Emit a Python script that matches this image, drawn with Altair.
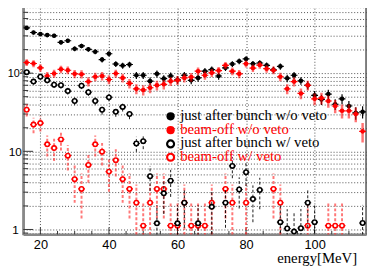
import altair as alt
import pandas as pd
import numpy as np

# ---- data ----
energy = list(range(16, 116, 2))  # bin centres [MeV]

after_bunch_no_veto = [379, 331, 316, 307, 301, 248, 260, 205, 223, 202,
                       188, 149, 177, 131, 125, 129, 94, 94, 79, 98,
                       85, 92, 82, 94, 81, 87, 106, 111, 92, 117,
                       131, 142, 152, 132, 135, 126, 110, 122, 86, 94,
                       80, 70, 52, 46, 54, 40, 47, 38, 31, 32]
beam_off_no_veto = [137, 133, 117, 92, 99, 112, 109, 98, 97, 78,
                    90, 92, 83, 99, 87, 74, 63, 61, 65, 70,
                    72, 79, 81, 87, 89, 106, 94, 101, 108, 126,
                    106, 98, 132, 116, 127, 114, 109, 90, 63, 78,
                    55, 70, 47, 48, 44, 38, 33, 33, 30, 18]
after_bunch_veto = [103, 78, 90, 81, 71, 70, 59, 44, 69, 57,
                    44, 34, 49, 32, 37, 30, 12.6, 13.5, 4.8, 1.2,
                    2.9, 4.2, 1.2, 2.2, None, 1.2, None, 1.95, None, 2.2,
                    6.5, 3.25, 5.4, 2.45, 3.2, None, None, 1.24, 1.03, 0.94,
                    1.04, 2.2, 1.24, None, None, None, None, None, None, 1.21]
beam_off_veto = [34, 22, 23, 12.3, 11, 14.2, 8.8, 4.4, 3.3, 6.7,
                 12.3, 9.9, 5.5, 7.7, 4.4, 3.3, 2.2, 1.12, 2.2, 3.3,
                 3.3, 1.12, 1.12, 2.2, 1.12, 1.12, 1.12, 2.2, None, 3.3,
                 2.2, None, 2.2, None, None, None, 3.3, 2.2, None, None,
                 None, 1.12, None, None, 1.12, 1.12, 1.12, None, None, None]

series_names = ["just after bunch w/o veto", "beam-off w/o veto",
                "just after bunch w/ veto", "beam-off w/ veto"]
series_values = [after_bunch_no_veto, beam_off_no_veto, after_bunch_veto, beam_off_veto]
# counts-per-entry weight used for the Poisson error bars of each series
entry_weight = [1.0, 1.4, 0.6, 1.11]
half_bin = 1.0

y_major = [1, 10, 100]
y_minor = [0.9, 2, 3, 4, 5, 6, 7, 8, 9, 20, 30, 40, 50, 60, 70, 80, 90,
           200, 300, 400, 500, 600, 700]
x_major = [20, 40, 60, 80, 100]
x_minor = [25, 30, 35, 45, 50, 55, 65, 70, 75, 85, 90, 95, 105, 110]

W, H = 348.5, 233
X_DOMAIN = [15, 115]
Y_DOMAIN = [0.865, 740]

def frame(name, vals, w):
    rows = []
    for e, v in zip(energy, vals):
        if v is None:
            continue
        err = float(np.sqrt(v * w))
        rows.append(dict(series=name, e=e, v=v, lo=max(v - err, 0.3), hi=v + err,
                         xlo=e - half_bin, xhi=e + half_bin))
    return pd.DataFrame(rows)

xscale = alt.Scale(domain=X_DOMAIN, nice=False, zero=False)
yscale = alt.Scale(type="log", domain=Y_DOMAIN, nice=False)

xaxis = alt.Axis(values=x_major, grid=True, gridDash=[1, 2], gridColor="#222",
                 gridOpacity=0.8, ticks=False, domain=True, domainColor="#888",
                 domainWidth=2.5, labelFont="Liberation Sans", labelFontSize=13,
                 labelColor="black", labelPadding=4.5,
                 title="energy[MeV]", titleFont="Liberation Serif", titleFontSize=15,
                 titleFontWeight="normal", titleColor="black", titleAlign="right",
                 titleBaseline="alphabetic", titleX=339, titleY=29)
yaxis = alt.Axis(values=y_minor + y_major, grid=True, gridDash=[1, 2], gridColor="#222",
                 gridOpacity=0.8, ticks=False, domain=True, domainColor="#888",
                 domainWidth=2.5, labelFont="Liberation Sans",
                 labelFontSize={"condition": {"test": "datum.value == 100", "value": 11},
                                "value": 12},
                 labelPadding={"condition": [{"test": "datum.value == 100", "value": 0.5},
                                             {"test": "datum.value == 1", "value": 5}],
                               "value": 2},
                 labelColor="black", labelOverlap=False, labelBound=False,
                 labelExpr="datum.value == 1 ? '1' : datum.value == 10 ? '10' : datum.value == 100 ? '10²' : ''",
                 title=None)

def X(field):
    return alt.X(field, type="quantitative", scale=xscale, axis=xaxis)

def Y(field):
    return alt.Y(field, type="quantitative", scale=yscale, axis=yaxis)

styles = [
    dict(color="#000000", bar="#000000", bar_w=1.2, bar_op=1.0, dash=None, filled=True),
    dict(color="#ff0000", bar="#ff0000", bar_w=2.5, bar_op=0.55, dash=None, filled=True),
    dict(color="#000000", bar="#000000", bar_w=1.0, bar_op=0.9, dash=[3, 2], filled=False),
    dict(color="#ff0000", bar="#ff3030", bar_w=2.0, bar_op=0.65, dash=[3, 2], filled=False),
]
draw_order = [0, 1, 3, 2]

layers = []

# inner ticks (ROOT style)
tick_color = "#333"
layers.append(alt.Chart(pd.DataFrame({"t": y_major})).mark_rule(color=tick_color)
              .encode(y=Y("t"), x=alt.value(0), x2=alt.value(10)))
layers.append(alt.Chart(pd.DataFrame({"t": y_minor})).mark_rule(color=tick_color)
              .encode(y=Y("t"), x=alt.value(0), x2=alt.value(5)))
layers.append(alt.Chart(pd.DataFrame({"t": x_major})).mark_rule(color=tick_color)
              .encode(x=X("t"), y=alt.value(H), y2=alt.value(H - 7)))
layers.append(alt.Chart(pd.DataFrame({"t": x_minor})).mark_rule(color=tick_color)
              .encode(x=X("t"), y=alt.value(H), y2=alt.value(H - 3.5)))

for i in draw_order:
    st = styles[i]
    df = frame(series_names[i], series_values[i], entry_weight[i])
    base = alt.Chart(df)
    rule_kw = dict(color=st["bar"], strokeWidth=st["bar_w"], opacity=st["bar_op"], clip=True)
    if st["dash"] is not None:
        rule_kw["strokeDash"] = st["dash"]
    layers.append(base.mark_rule(**rule_kw).encode(x=X("e"), y=Y("lo"), y2="hi"))
    layers.append(base.mark_rule(color=st["color"], strokeWidth=1.2, clip=True)
                  .encode(x=X("xlo"), x2="xhi", y=Y("v")))
    if st["filled"]:
        layers.append(base.mark_point(shape="circle", filled=True, color=st["color"],
                                      size=22, opacity=1, clip=True)
                      .encode(x=X("e"), y=Y("v")))
    else:
        layers.append(base.mark_point(shape="circle", filled=True, fill="white",
                                      stroke=st["color"], strokeWidth=1.6, size=20,
                                      opacity=1, fillOpacity=1, clip=True)
                      .encode(x=X("e"), y=Y("v")))

# legend (no frame, inside plot)
legend_text_x = 159.5
legend_marker_x = 149.8
legend_text_y = [117, 130.5, 144, 158]
legend_marker_y = [113, 127, 141, 154.5]
one = pd.DataFrame({"k": [0]})
for i, name in enumerate(series_names):
    st = styles[i]
    if st["filled"]:
        mk = alt.Chart(one).mark_point(shape="circle", filled=True, color=st["color"],
                                       size=70, opacity=1)
    else:
        mk = alt.Chart(one).mark_point(shape="circle", filled=True, fill="white",
                                       stroke=st["color"], strokeWidth=2.2, size=50,
                                       opacity=1, fillOpacity=1)
    layers.append(mk.encode(x=alt.value(legend_marker_x), y=alt.value(legend_marker_y[i])))
    layers.append(alt.Chart(one).mark_text(align="left", baseline="alphabetic",
                                           font="Liberation Serif", fontSize=15,
                                           color=st["color"])
                  .encode(x=alt.value(legend_text_x), y=alt.value(legend_text_y[i]),
                          text=alt.value(name)))

chart = alt.layer(*layers).properties(
    width=W, height=H,
    autosize=alt.AutoSizeParams(type="none"),
    padding={"left": 15.5, "top": -5, "right": 2, "bottom": 33},
    background="white",
).configure_view(stroke="#555", strokeWidth=1.5)

chart.save("out.html", embed_options={"renderer": "svg", "actions": False})
